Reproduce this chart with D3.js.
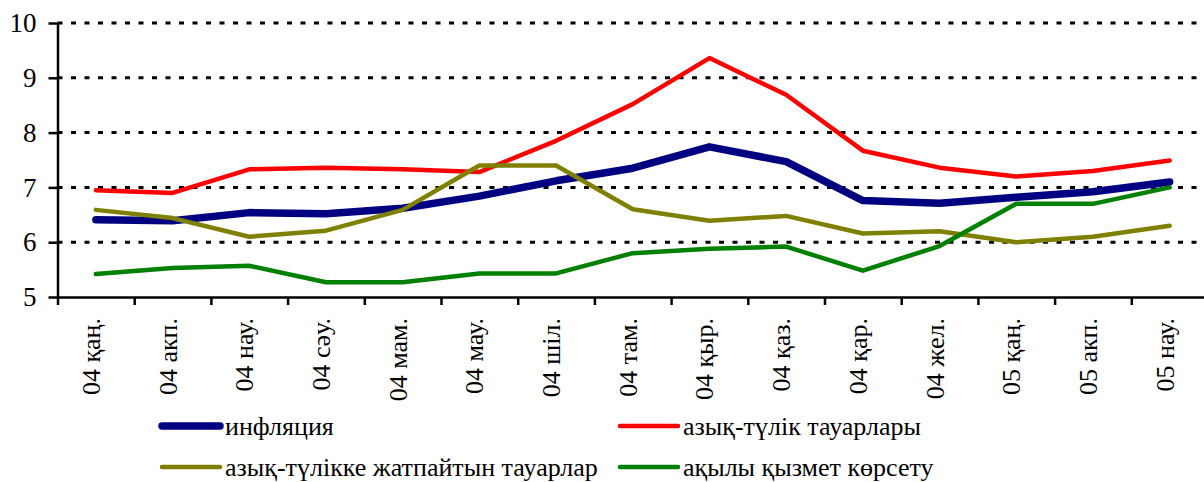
<!DOCTYPE html>
<html>
<head>
<meta charset="utf-8">
<script src="https://cdn.jsdelivr.net/npm/d3@7/dist/d3.min.js"></script>
<style>
  body { margin: 0; background: #fff; }
  svg { display: block; }
</style>
</head>
<body>
<div id="chart"></div>
<script>
// months (Kazakh abbreviations)
var months = ["04 қаң.", "04 акп.", "04 нау.", "04 сәу.", "04 мам.", "04 мау.", "04 шіл.",
  "04 там.", "04 қыр.", "04 қаз.", "04 қар.", "04 жел.", "05 қаң.", "05 акп.", "05 нау."];

var inflation = [6.41, 6.39, 6.54, 6.52, 6.62, 6.84, 7.12, 7.35, 7.74, 7.47, 6.76, 6.71, 6.82, 6.92, 7.10];
var food      = [6.95, 6.90, 7.33, 7.36, 7.33, 7.28, 7.85, 8.52, 9.36, 8.69, 7.67, 7.36, 7.20, 7.30, 7.49];
var nonFood   = [6.59, 6.44, 6.10, 6.21, 6.59, 7.40, 7.40, 6.60, 6.39, 6.48, 6.16, 6.20, 6.00, 6.10, 6.30];
var services  = [5.42, 5.53, 5.57, 5.27, 5.27, 5.43, 5.43, 5.80, 5.88, 5.92, 5.48, 5.93, 6.70, 6.70, 7.00];

var yTicks = [5, 6, 7, 8, 9, 10];

var series = [
  { name: "инфляция", values: inflation, color: "#000080", width: 7.5 },
  { name: "азық-түлік тауарлары", values: food, color: "#ff0000", width: 4.5 },
  { name: "азық-түлікке жатпайтын тауарлар", values: nonFood, color: "#808000", width: 4.5 },
  { name: "ақылы қызмет көрсету", values: services, color: "#008000", width: 4.5 }
];

var font = "Liberation Serif";
var svgWidth = 1204;
var svgHeight = 482;
var plotLeft = 57.5, plotTop = 23, plotBottom = 297;
var step = 76.7;
var plotRight = plotLeft + months.length * step;

var svg = d3.select("#chart").append("svg")
  .attr("width", svgWidth)
  .attr("height", svgHeight);

var xEdge = d3.scaleLinear().domain([0, months.length]).range([plotLeft, plotRight]);
var x = d3.scalePoint().domain(months).range([plotLeft, plotRight]).padding(0.5);
var y = d3.scaleLinear().domain([5, 10]).range([plotBottom, plotTop]);

// dashed gridlines
svg.append("g")
  .selectAll("line")
  .data(yTicks.slice(1))
  .enter()
  .append("line")
  .attr("x1", plotLeft)
  .attr("x2", svgWidth)
  .attr("y1", d => y(d))
  .attr("y2", d => y(d))
  .attr("stroke", "#000")
  .attr("stroke-width", 3)
  .attr("stroke-dasharray", "5,8.5");

// y axis
var yAxis = svg.append("g")
  .attr("transform", `translate(${plotLeft},0)`)
  .call(d3.axisLeft(y).tickValues(yTicks).tickSize(9).tickPadding(12).tickSizeOuter(0).tickFormat(d3.format("d")))
  .attr("font-family", font);
yAxis.select(".domain").attr("stroke-width", 2.5);
yAxis.selectAll(".tick line").attr("stroke-width", 2.5);
yAxis.selectAll("text")
  .attr("font-size", 27)
  .attr("font-family", font)
  .attr("fill", "#000");

// x axis (ticks on category boundaries)
var xAxis = svg.append("g")
  .attr("transform", `translate(0,${plotBottom})`)
  .call(d3.axisBottom(xEdge).ticks(months.length).tickSize(8).tickSizeOuter(0).tickFormat(""));
xAxis.select(".domain").attr("stroke-width", 2.5);
xAxis.selectAll(".tick line").attr("stroke-width", 2.5);

// category labels, rotated
svg.append("g")
  .selectAll("text")
  .data(months)
  .enter()
  .append("text")
  .attr("transform", d => `translate(${x(d) + 4},${plotBottom + 21}) rotate(-90)`)
  .attr("text-anchor", "end")
  .attr("font-family", font)
  .attr("font-size", 26)
  .attr("fill", "#000")
  .text(d => d);

// lines
var line = d3.line()
  .x((d, i) => x(months[i]))
  .y(d => y(d));

svg.append("g")
  .selectAll("path")
  .data(series)
  .enter()
  .append("path")
  .attr("d", d => line(d.values))
  .attr("fill", "none")
  .attr("stroke", d => d.color)
  .attr("stroke-width", d => d.width)
  .attr("stroke-linejoin", "round")
  .attr("stroke-linecap", "round");

// legend
var legendPos = [[162, 426], [620, 426], [162, 467], [620, 467]];
var legend = svg.append("g")
  .selectAll("g")
  .data(series)
  .enter()
  .append("g")
  .attr("transform", (d, i) => `translate(${legendPos[i][0]},${legendPos[i][1]})`);

legend.append("line")
  .attr("x1", 0)
  .attr("x2", 58)
  .attr("stroke", d => d.color)
  .attr("stroke-width", d => d.width)
  .attr("stroke-linecap", "round");

legend.append("text")
  .attr("x", 63)
  .attr("dy", "0.35em")
  .attr("font-family", font)
  .attr("font-size", 26)
  .attr("fill", "#000")
  .text(d => d.name);
</script>
</body>
</html>
